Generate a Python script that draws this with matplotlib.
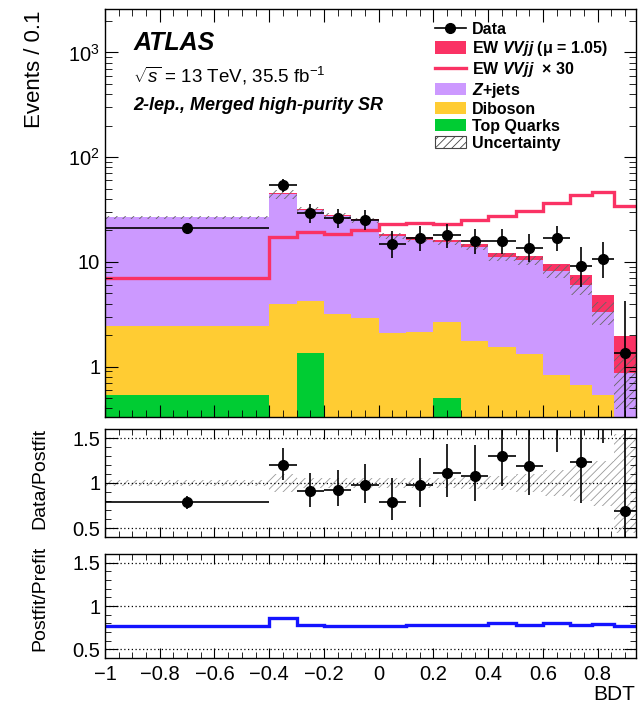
import numpy as np
import matplotlib
matplotlib.use('Agg')
import matplotlib.pyplot as plt
from matplotlib.lines import Line2D
from matplotlib.patches import Patch
from matplotlib.ticker import FixedLocator, MultipleLocator, FuncFormatter, LogLocator, NullFormatter

plt.rcParams['font.family'] = ['Liberation Sans', 'DejaVu Sans']
plt.rcParams['mathtext.fontset'] = 'custom'
plt.rcParams['mathtext.rm'] = 'Liberation Sans'
plt.rcParams['mathtext.it'] = 'Liberation Sans:italic'
plt.rcParams['mathtext.bf'] = 'Liberation Sans:bold:italic'
plt.rcParams['hatch.linewidth'] = 0.6

# BDT binning, contents in Events / 0.1
bin_edges = [-1, -0.4, -0.3, -0.2, -0.1, 0, 0.1, 0.2, 0.3, 0.4, 0.5, 0.6, 0.7, 0.78, 0.86, 0.94]
top_quarks = [0.54, 0, 1.36, 0, 0, 0, 0, 0.5, 0, 0, 0, 0, 0, 0, 0]
diboson = [1.92, 4.0, 2.89, 3.2, 2.93, 2.1, 2.15, 2.18, 1.77, 1.54, 1.33, 0.84, 0.67, 0.53, 0.2]
zjets = [24.1, 40.4, 27.0, 24.2, 22.0, 15.6, 14.2, 12.7, 12.0, 9.6, 9.0, 7.3, 5.3, 2.8, 0.67]
ew_signal = [0.24, 0.6, 0.7, 0.65, 0.72, 0.82, 0.85, 0.8, 0.9, 1.0, 1.1, 1.3, 1.5, 1.5, 1.1]
ew_x30 = [7.0, 17.1, 19.2, 18.4, 20.2, 23.0, 23.6, 22.8, 25.1, 27.4, 30.8, 36.2, 43.4, 46.2, 34.2]
data = [21, 54, 29, 26, 25, 14.7, 16.8, 17.9, 15.8, 15.8, 13.6, 16.8, 9.2, 10.6, 1.35]
data_err_lo = [1.9, 7.3, 5.4, 5.1, 5.0, 3.8, 4.1, 4.2, 4.0, 4.0, 3.7, 4.1, 3.4, 3.6, 1.04]
data_err_hi = [2.0, 8.4, 6.5, 6.2, 6.0, 4.9, 5.2, 5.3, 5.0, 5.0, 4.8, 5.2, 4.7, 5.0, 2.9]
rel_unc = [0.035, 0.095, 0.06, 0.06, 0.06, 0.06, 0.06, 0.06, 0.065, 0.08, 0.1, 0.14, 0.2, 0.25, 0.55]
postfit_prefit = [0.765, 0.867, 0.78, 0.765, 0.769, 0.773, 0.78, 0.784, 0.784, 0.803, 0.78, 0.80, 0.78, 0.79, 0.769]

col_ew = '#fa3264'
col_zj = '#cc99ff'
col_dib = '#ffcc33'
col_top = '#00cc33'

edges = np.array(bin_edges)
centers = 0.5 * (edges[1:] + edges[:-1])
half_w = 0.5 * (edges[1:] - edges[:-1])

c_top = np.array(top_quarks)
c_dib = c_top + np.array(diboson)
c_zj = c_dib + np.array(zjets)
total = c_zj + np.array(ew_signal)
unc = np.array(rel_unc)
d = np.array(data)
lo = np.array(data_err_lo)
hi = np.array(data_err_hi)

fig = plt.figure(figsize=(6.43, 7.10), dpi=100)
ax = fig.add_axes([105 / 643, 1 - 417 / 710, 531 / 643, 408 / 710])
ax2 = fig.add_axes([105 / 643, 1 - 537 / 710, 531 / 643, 108 / 710])
ax3 = fig.add_axes([105 / 643, 1 - 658 / 710, 531 / 643, 104 / 710])

# Main panel: stacked histogram
ax.set_yscale('log')
ax.stairs(total, edges, baseline=c_zj, fill=True, color=col_ew, lw=0)
ax.stairs(c_zj, edges, baseline=c_dib, fill=True, color=col_zj, lw=0)
ax.stairs(c_dib, edges, baseline=c_top, fill=True, color=col_dib, lw=0)
ax.stairs(c_top, edges, baseline=1e-3, fill=True, color=col_top, lw=0)
# band drawn around the background sum
ax.stairs(c_zj * (1 + unc), edges, baseline=c_zj * (1 - unc), fill=True,
          facecolor='none', edgecolor='#666666', hatch='////', lw=0)
ax.stairs(ew_x30, edges, baseline=None, color=col_ew, lw=2.4)
ax.errorbar(centers, d, xerr=half_w, yerr=[lo, hi], fmt='o', color='black',
            ms=7, elinewidth=1.2, capsize=0)
ax.set_xlim(-1, 0.94)
ax.set_ylim(0.33, 2600)

ax.yaxis.set_major_locator(LogLocator(base=10))
ax.yaxis.set_minor_locator(LogLocator(base=10, subs=np.arange(2, 10)))
ax.yaxis.set_minor_formatter(NullFormatter())
ylabels = {1: '1', 10: '10', 100: '$10^2$', 1000: '$10^3$'}
ax.yaxis.set_major_formatter(FuncFormatter(lambda v, _: ylabels.get(int(round(v)), '')))

# ATLAS labels
ax.text(0.053, 0.8995, 'ATLAS', transform=ax.transAxes, fontsize=18,
        fontweight='bold', fontstyle='italic', va='baseline')
ax.text(0.053, 0.821, r'$\sqrt{s}$ = 13 TeV, 35.5 fb$^{-1}$', transform=ax.transAxes,
        fontsize=13.5, va='baseline')
ax.text(0.053, 0.7525, '2-lep., Merged high-purity SR', transform=ax.transAxes,
        fontsize=13, fontweight='bold', fontstyle='italic', va='baseline')

# Legend
handles = [
    Line2D([], [], color='black', marker='o', ms=7, lw=1.2),
    Patch(facecolor=col_ew, edgecolor='none'),
    Line2D([], [], color=col_ew, lw=2.4),
    Patch(facecolor=col_zj, edgecolor='none'),
    Patch(facecolor=col_dib, edgecolor='none'),
    Patch(facecolor=col_top, edgecolor='none'),
    Patch(facecolor='white', edgecolor='#444444', hatch='////', lw=0.8),
]
labels = ['Data', r'EW $\mathbf{VVjj}$ (μ = 1.05)', r'EW $\mathbf{VVjj}$  × 30',
          r'$\mathbf{Z}$+jets', 'Diboson', 'Top Quarks', 'Uncertainty']
ax.legend(handles, labels, loc='upper left', bbox_to_anchor=(0.622, 0.968),
          frameon=False, prop={'weight': 'bold', 'size': 11.5}, handlelength=1.9,
          handleheight=0.8, handletextpad=0.4, labelspacing=0.12, borderpad=0,
          borderaxespad=0)

# Data / Postfit ratio
ratio = d / total
ax2.stairs(1 + unc, edges, baseline=1 - unc, fill=True, facecolor='none',
           edgecolor='#999999', hatch='////', lw=0)
ax2.errorbar(centers, ratio, xerr=half_w, yerr=[lo / total, hi / total], fmt='o',
             color='black', ms=7, elinewidth=1.2, capsize=0)

# Postfit / Prefit
ax3.stairs(postfit_prefit, edges, baseline=None, color='#1414ff', lw=2.4)

xfmt = FuncFormatter(lambda v, _: f'{round(v, 2) + 0.0:g}'.replace('-', '\u2212'))
for a in (ax2, ax3):
    a.set_xlim(-1, 0.94)
    a.set_ylim(0.4, 1.6)
    for yv in (0.5, 1.0, 1.5):
        a.axhline(yv, color='black', ls=(0, (1, 2)), lw=0.9)
    a.yaxis.set_major_locator(FixedLocator([0.5, 1.0, 1.5]))
    a.yaxis.set_minor_locator(MultipleLocator(0.1))
    a.yaxis.set_major_formatter(FuncFormatter(lambda v, _: f'{v:g}'))

for a in (ax, ax2, ax3):
    a.xaxis.set_major_locator(MultipleLocator(0.2))
    a.xaxis.set_minor_locator(MultipleLocator(0.05))
    a.xaxis.set_major_formatter(xfmt)
    a.tick_params(which='both', direction='in', top=True, right=True, labelsize=14.5)
    for s in a.spines.values():
        s.set_linewidth(1.0)

ax.tick_params(which='major', length=9)
ax.tick_params(which='minor', length=5)
ax.tick_params(labelbottom=False)
ax2.tick_params(labelbottom=False)
for a in (ax2, ax3):
    a.tick_params(axis='x', which='major', length=7)
    a.tick_params(axis='x', which='minor', length=4)
    a.tick_params(axis='y', which='major', length=9)
    a.tick_params(axis='y', which='minor', length=4)
ax3.tick_params(axis='x', pad=5)

fig.text(35 / 643, 1 - 10 / 710, 'Events / 0.1', rotation=90, ha='center', va='top', fontsize=16)
fig.text(40 / 643, 1 - 478 / 710, 'Data/Postfit', rotation=90, ha='center', va='center', fontsize=14)
fig.text(40 / 643, 1 - 598 / 710, 'Postfit/Prefit', rotation=90, ha='center', va='center', fontsize=14)
fig.text(635 / 643, 1 - 695 / 710, 'BDT', ha='right', va='center', fontsize=15)

fig.savefig('out.png', dpi=100)
